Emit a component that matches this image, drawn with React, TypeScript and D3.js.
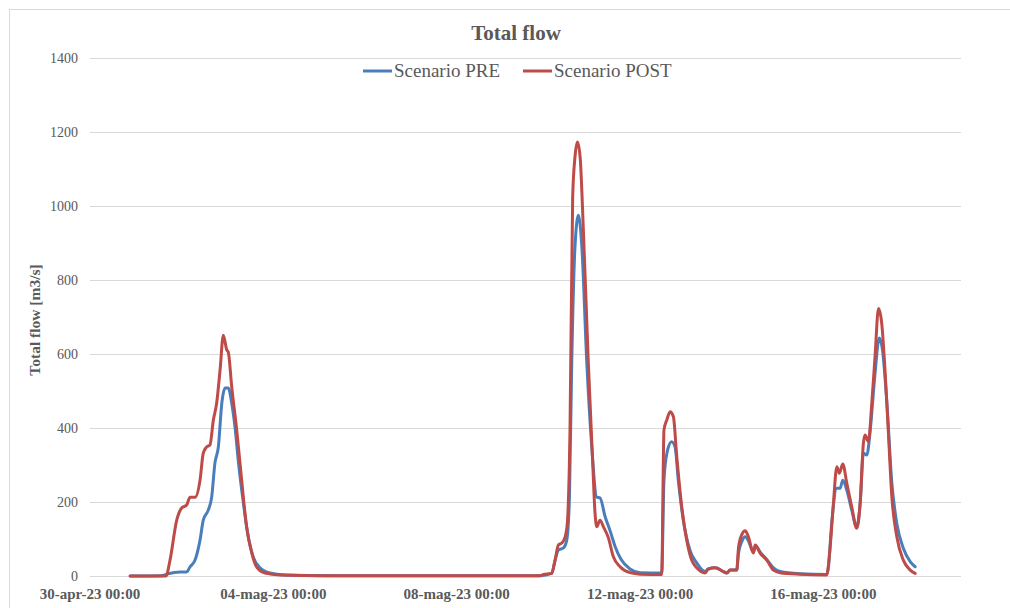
import React from "react";
import * as d3 from "d3";

const title = "Total flow";
const yTitle = "Total flow [m3/s]";
const seriesNames = ["Scenario PRE", "Scenario POST"];
const seriesColors = ["#4A7EBB", "#BE4B48"];

// hours after 30-apr-23 00:00
const preHours = [21, 37.7, 40.2, 47.1, 50.6, 52.4, 55.0, 57.6, 59.3, 61.9, 63.7, 65.4, 67.2, 69.0, 70.7, 72.4, 74.2, 75.9, 77.6, 80.3, 82.9, 85.5, 89.0, 94.2, 102.1, 125.7, 235.6, 241.7, 243.5, 245.2, 247.9, 249.6, 251.0, 252.2, 253.9, 255.7, 257.5, 260.1, 262.7, 265.3, 267.0, 269.7, 272.3, 274.9, 278.0, 282.7, 288.0, 299.3, 300.5, 302.2, 304.5, 306.3, 308.0, 310.6, 314.1, 317.7, 322.0, 323.7, 327.3, 331.6, 333.4, 335.1, 338.6, 339.5, 341.4, 343.0, 344.7, 347.3, 348.5, 350.8, 354.3, 357.8, 361.3, 371.8, 385.7, 386.6, 388.3, 391.0, 392.7, 394.1, 396.2, 398.8, 401.4, 403.2, 404.9, 406.7, 408.5, 411.0, 413.2, 414.9, 417.1, 419.8, 422.4, 425.8, 429.4, 432.0];
const preFlow = [0, 1, 5, 11, 11, 25, 43, 97, 151, 178, 213, 305, 349, 467, 508, 508, 467, 403, 313, 197, 105, 51, 22, 8, 3, 1, 1, 7, 43, 70, 76, 97, 213, 575, 889, 975, 889, 575, 349, 213, 211, 160, 122, 80, 45, 19, 9, 8, 259, 336, 363, 349, 259, 151, 70, 35, 12, 19, 22, 12, 8, 16, 16, 60, 95, 106, 95, 65, 82, 65, 45, 22, 12, 6, 4, 25, 142, 237, 237, 259, 232, 178, 133, 196, 332, 327, 395, 548, 643, 611, 476, 251, 142, 75, 39, 25];

const postHours = [21, 39.8, 41.9, 45.4, 48.0, 50.6, 52.4, 55.0, 57.6, 59.3, 61.1, 62.8, 64.6, 66.3, 68.1, 69.8, 71.6, 72.4, 74.2, 76.8, 79.4, 82.0, 84.7, 87.3, 91.6, 99.5, 120.4, 235.6, 237.4, 241.7, 243.5, 245.2, 247.0, 248.7, 249.9, 251.3, 252.7, 253.9, 255.2, 256.6, 258.3, 260.9, 263.2, 264.4, 265.3, 267.0, 268.8, 271.4, 274.0, 277.5, 282.7, 288.0, 299.3, 300.5, 302.0, 303.7, 305.4, 307.2, 309.8, 312.4, 315.0, 317.7, 322.0, 323.7, 327.3, 331.6, 333.4, 335.1, 338.6, 339.5, 341.2, 343.0, 344.7, 347.3, 348.2, 350.8, 354.3, 357.8, 361.3, 371.8, 385.7, 387.5, 389.2, 391.0, 392.3, 394.1, 396.2, 398.8, 401.4, 403.2, 404.9, 405.8, 407.5, 409.3, 411.0, 412.8, 414.5, 416.3, 418.0, 419.8, 422.4, 425.8, 429.4, 432.0];
const postFlow = [0, 0, 43, 151, 184, 192, 213, 213, 259, 332, 349, 354, 422, 467, 557, 651, 611, 605, 511, 395, 259, 132, 62, 24, 8, 3, 1, 1, 4, 7, 43, 84, 89, 105, 143, 395, 1024, 1132, 1173, 1132, 935, 575, 305, 170, 133, 151, 133, 103, 52, 25, 9, 5, 4, 395, 422, 444, 431, 322, 187, 97, 43, 22, 8, 19, 22, 12, 8, 16, 16, 76, 111, 122, 106, 62, 84, 62, 43, 16, 9, 5, 3, 79, 196, 295, 278, 303, 251, 187, 129, 196, 359, 381, 363, 467, 593, 723, 683, 548, 386, 214, 106, 43, 16, 7];

const yTicks = [0, 200, 400, 600, 800, 1000, 1200, 1400];
const xTickDays = [0, 4, 8, 12, 16];
const xTickLabels = ["30-apr-23 00:00", "04-mag-23 00:00", "08-mag-23 00:00", "12-mag-23 00:00", "16-mag-23 00:00"];

const start = new Date(2023, 3, 30, 0, 0).getTime();
const hourMs = 3600 * 1000;
const toDate = (h: number) => new Date(start + h * hourMs);

export default function App() {
  const W = 1010, H = 608;
  const left = 90, right = 961, top = 58, bottom = 576;
  const x = d3.scaleTime().domain([toDate(0), toDate(19 * 24)]).range([left, right]);
  const y = d3.scaleLinear().domain([0, 1400]).range([bottom, top]);
  const line = d3.line<[number, number]>()
    .x((d) => x(toDate(d[0])))
    .y((d) => y(d[1]))
    .curve(d3.curveMonotoneX);
  const pre = preHours.map((h, i) => [h, preFlow[i]] as [number, number]);
  const post = postHours.map((h, i) => [h, postFlow[i]] as [number, number]);
  const serif = "'Liberation Serif', 'Times New Roman', serif";
  const txt = "#595959";
  return (
    <svg width={W} height={H} style={{ position: "absolute", left: 0, top: 0 }} fontFamily={serif}>
      <rect x={0} y={0} width={W} height={H} fill="#fff" />
      <rect x={9.5} y={9.5} width={1010} height={620} fill="#fff" stroke="#d9d9d9" />
      {yTicks.map((t) => (
        <g key={t}>
          <line x1={left} x2={right} y1={y(t) + 0.5} y2={y(t) + 0.5} stroke="#d9d9d9" strokeWidth={1} />
          <text x={78} y={y(t) + 5} textAnchor="end" fontSize={14} fill={txt}>{t}</text>
        </g>
      ))}
      {xTickDays.map((d, i) => (
        <text key={d} x={x(toDate(d * 24))} y={599} textAnchor="middle" fontSize={15} fontWeight="bold" fill={txt}>
          {xTickLabels[i]}
        </text>
      ))}
      <text transform={`translate(40,320) rotate(-90)`} textAnchor="middle" fontSize={15.5} fontWeight="bold" fill={txt}>{yTitle}</text>
      <text x={516} y={40} textAnchor="middle" fontSize={21} fontWeight="bold" fill={txt}>{title}</text>
      <path d={line(pre) || ""} fill="none" stroke={seriesColors[0]} strokeWidth={3} strokeLinejoin="round" strokeLinecap="round" />
      <path d={line(post) || ""} fill="none" stroke={seriesColors[1]} strokeWidth={3} strokeLinejoin="round" strokeLinecap="round" />
      <g>
        <line x1={363} x2={392} y1={71} y2={71} stroke={seriesColors[0]} strokeWidth={3} />
        <text x={394} y={77} fontSize={19} fill={txt}>{seriesNames[0]}</text>
        <line x1={523} x2={552} y1={71} y2={71} stroke={seriesColors[1]} strokeWidth={3} />
        <text x={554} y={77} fontSize={19} fill={txt}>{seriesNames[1]}</text>
      </g>
    </svg>
  );
}
